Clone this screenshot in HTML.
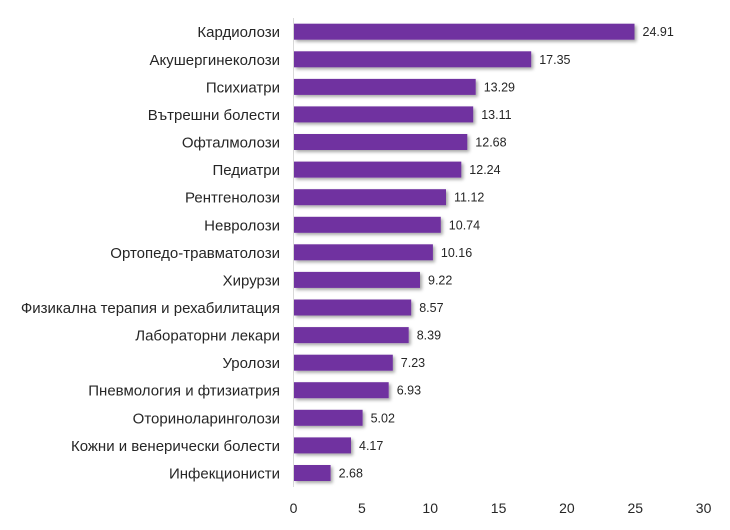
<!DOCTYPE html><html><head><meta charset="utf-8"><style>body{margin:0;background:#fff}</style></head><body>
<svg width="730" height="525" xmlns="http://www.w3.org/2000/svg" font-family="Liberation Sans, DejaVu Sans, sans-serif">
<defs><filter id="s" x="-5%" y="-20%" width="115%" height="160%"><feDropShadow dx="2" dy="2" stdDeviation="1.5" flood-color="#000" flood-opacity="0.35"/></filter></defs>
<line x1="293.5" y1="18" x2="293.5" y2="487" stroke="#d9d9d9" stroke-width="1"/>
<g fill="#7030a0" filter="url(#s)">
<rect x="294" y="23.7" width="340.5" height="16"/>
<rect x="294" y="51.3" width="237.2" height="16"/>
<rect x="294" y="78.9" width="181.7" height="16"/>
<rect x="294" y="106.4" width="179.2" height="16"/>
<rect x="294" y="134.0" width="173.3" height="16"/>
<rect x="294" y="161.6" width="167.3" height="16"/>
<rect x="294" y="189.2" width="152.0" height="16"/>
<rect x="294" y="216.8" width="146.8" height="16"/>
<rect x="294" y="244.3" width="138.9" height="16"/>
<rect x="294" y="271.9" width="126.0" height="16"/>
<rect x="294" y="299.5" width="117.2" height="16"/>
<rect x="294" y="327.1" width="114.7" height="16"/>
<rect x="294" y="354.7" width="98.8" height="16"/>
<rect x="294" y="382.2" width="94.7" height="16"/>
<rect x="294" y="409.8" width="68.6" height="16"/>
<rect x="294" y="437.4" width="57.0" height="16"/>
<rect x="294" y="465.0" width="36.6" height="16"/>
</g>
<g font-size="12.5" fill="#262626">
<text x="642.5" y="36.2">24.91</text>
<text x="539.2" y="63.8">17.35</text>
<text x="483.7" y="91.4">13.29</text>
<text x="481.2" y="118.9">13.11</text>
<text x="475.3" y="146.5">12.68</text>
<text x="469.3" y="174.1">12.24</text>
<text x="454.0" y="201.7">11.12</text>
<text x="448.8" y="229.3">10.74</text>
<text x="440.9" y="256.8">10.16</text>
<text x="428.0" y="284.4">9.22</text>
<text x="419.2" y="312.0">8.57</text>
<text x="416.7" y="339.6">8.39</text>
<text x="400.8" y="367.2">7.23</text>
<text x="396.7" y="394.7">6.93</text>
<text x="370.6" y="422.3">5.02</text>
<text x="359.0" y="449.9">4.17</text>
<text x="338.6" y="477.5">2.68</text>
</g>
<g font-size="15" fill="#262626" text-anchor="end">
<text x="280" y="37.2">Кардиолози</text>
<text x="280" y="64.8">Акушергинеколози</text>
<text x="280" y="92.4">Психиатри</text>
<text x="280" y="119.9">Вътрешни болести</text>
<text x="280" y="147.5">Офталмолози</text>
<text x="280" y="175.1">Педиатри</text>
<text x="280" y="202.7">Рентгенолози</text>
<text x="280" y="230.3">Невролози</text>
<text x="280" y="257.8">Ортопедо-травматолози</text>
<text x="280" y="285.4">Хирурзи</text>
<text x="280" y="313.0">Физикална терапия и рехабилитация</text>
<text x="280" y="340.6">Лабораторни лекари</text>
<text x="280" y="368.2">Уролози</text>
<text x="280" y="395.7">Пневмология и фтизиатрия</text>
<text x="280" y="423.3">Оториноларинголози</text>
<text x="280" y="450.9">Кожни и венерически болести</text>
<text x="280" y="478.5">Инфекционисти</text>
</g>
<g font-size="14" fill="#262626" text-anchor="middle">
<text x="293.5" y="513">0</text>
<text x="361.9" y="513">5</text>
<text x="430.2" y="513">10</text>
<text x="498.6" y="513">15</text>
<text x="566.9" y="513">20</text>
<text x="635.3" y="513">25</text>
<text x="703.6" y="513">30</text>
</g>
</svg></body></html>
